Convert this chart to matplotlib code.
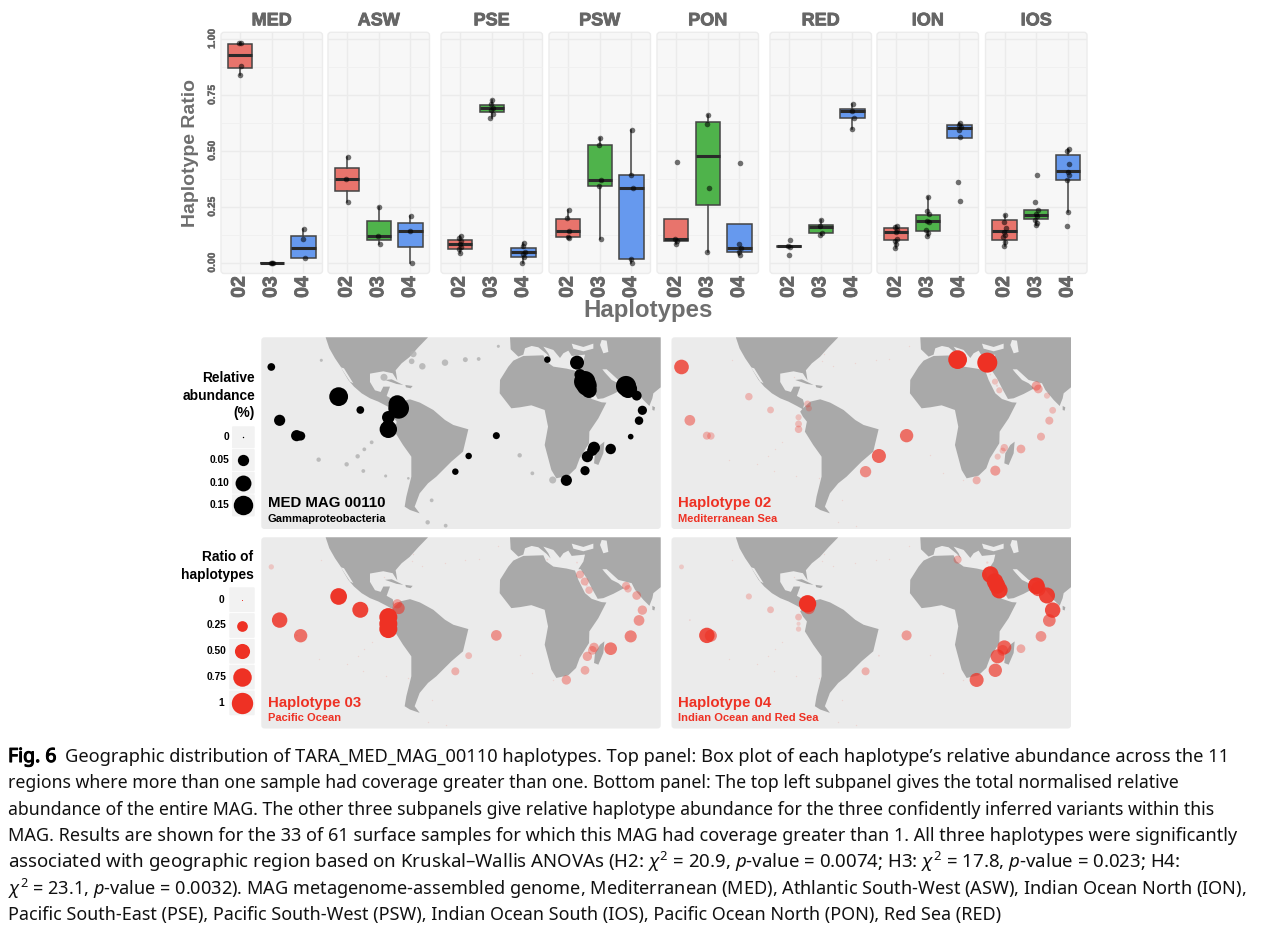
import matplotlib
matplotlib.use('Agg')
import matplotlib.pyplot as plt
import matplotlib.patheffects as pe
from matplotlib.patches import FancyBboxPatch, Polygon

plt.rcParams['font.family'] = ['Liberation Sans', 'DejaVu Sans']
plt.rcParams['mathtext.fontset'] = 'custom'
plt.rcParams['mathtext.rm'] = 'Noto Sans'
plt.rcParams['mathtext.it'] = 'Noto Sans:italic'
plt.rcParams['mathtext.bf'] = 'Noto Sans:bold'

W, H = 1268, 933

# ---- box plot data ----
regions = ['MED', 'ASW', 'PSE', 'PSW', 'PON', 'RED', 'ION', 'IOS']
haplotypes = ['02', '03', '04']
box_q1 = [[.87, 0, .02], [.321, .10, .071], [.063, .673, .027], [.115, .341, .015],
          [.098, .26, .046], [.07, .131, .646], [.101, .14, .557], [.103, .196, .372]]
box_med = [[.93, 0, .064], [.374, .12, .144], [.086, .692, .046], [.143, .369, .332],
           [.106, .476, .067], [.073, .162, .68], [.138, .188, .601], [.143, .213, .409]]
box_q3 = [[.979, 0, .119], [.424, .185, .177], [.103, .704, .065], [.196, .528, .391],
          [.195, .628, .174], [.075, .168, .688], [.155, .213, .616], [.193, .237, .481]]
whis_lo = [[.84, 0, .02], [.272, .083, 0], [.042, .649, 0], [.109, .106, 0],
           [.085, .048, .036], [.07, .122, .597], [.068, .119, .557], [.077, .168, .229]]
whis_hi = [[.98, 0, .153], [.473, .25, .21], [.118, .726, .089], [.238, .557, .592],
           [.195, .662, .174], [.075, .189, .71], [.165, .292, .625], [.213, .237, .51]]

med_pts = [[.98, .98, .88, .84], [0, 0, 0], [.153, .107, .02]]
asw_pts = [[.473, .374, .272], [.25, .12, .083], [.21, .144, 0]]
pse_pts = [[.118, .109, .098, .086, .071, .06, .042], [.726, .708, .693, .682, .667, .649],
           [.089, .074, .046, .039, .024, 0]]
psw_pts = [[.238, .198, .143, .115, .109], [.557, .528, .368, .341, .106], [.592, .391, .332, .015, 0]]
pon_pts = [[.452, .106, .098, .085], [.662, .619, .332, .048], [.445, .082, .064, .048, .036]]
red_pts = [[.103, .073, .07, .034], [.189, .164, .131, .122], [.71, .68, .649, .597]]
ion_pts = [[.165, .158, .146, .138, .104, .098, .086, .068], [.292, .232, .216, .188, .183, .146, .135, .119],
           [.625, .616, .607, .595, .56, .36, .275]]
ios_pts = [[.213, .183, .155, .137, .124, .113, .094, .077], [.393, .271, .235, .219, .208, .193, .179, .168],
           [.51, .5, .443, .406, .391, .368, .229, .164]]
points = [med_pts, asw_pts, pse_pts, psw_pts, pon_pts, red_pts, ion_pts, ios_pts]
jitter = [.02, -.03, .04, -.01, .03, -.04, .01, -.02]

# ---- map data, all in the units of one map panel ----
north_america = [(467, 22), (478, 55), (495, 85), (512, 110), (520, 125), (535, 150), (552, 170), (575, 190),
                 (600, 205), (625, 215), (650, 228), (668, 238), (672, 222), (668, 208), (650, 198), (660, 170),
                 (640, 170), (632, 186), (615, 181), (600, 156), (600, 131), (640, 124), (668, 130), (682, 152),
                 (677, 121), (695, 100), (719, 81), (745, 52), (774, 22)]
south_america = [(668, 235), (690, 215), (720, 208), (750, 218), (790, 240), (825, 270), (850, 285), (895, 298),
                 (879, 365), (844, 395), (799, 440), (774, 460), (749, 490), (734, 530), (749, 550), (720, 540),
                 (704, 530), (709, 500), (724, 440), (724, 380), (699, 345), (674, 305), (680, 275), (668, 260),
                 (660, 245)]
africa = [(1030, 92), (1060, 78), (1120, 76), (1128, 94), (1150, 110), (1190, 116), (1215, 122), (1225, 150),
          (1245, 190), (1265, 207), (1295, 217), (1309, 218), (1285, 265), (1258, 305), (1257, 340), (1229, 385),
          (1218, 415), (1195, 437), (1159, 445), (1144, 420), (1124, 345), (1134, 290), (1124, 240), (1084, 226),
          (1050, 232), (1024, 235), (989, 190), (990, 150), (1015, 110)]
eurasia = [(1020, 22), (1022, 58), (1045, 80), (1060, 74), (1065, 55), (1085, 48), (1105, 52), (1130, 72),
           (1142, 86), (1135, 70), (1120, 50), (1150, 60), (1170, 84), (1180, 70), (1195, 62), (1205, 78),
           (1245, 74), (1240, 95), (1225, 118), (1232, 118), (1250, 145), (1268, 180), (1283, 207), (1300, 205),
           (1330, 192), (1362, 175), (1345, 160), (1325, 150), (1305, 128), (1297, 118), (1310, 118), (1345, 150),
           (1385, 160), (1395, 180), (1420, 210), (1438, 228), (1447, 205), (1450, 190), (1472, 172), (1472, 22)]
madagascar = [(1290, 345), (1303, 335), (1300, 370), (1285, 405), (1272, 400), (1275, 370)]
sri_lanka = [(1447, 228), (1455, 232), (1453, 242), (1447, 240)]
cuba = [(645, 150), (665, 148), (700, 165), (680, 162)]
hispaniola = [(706, 165), (728, 168), (722, 175), (708, 172)]
black_sea = [(1205, 41), (1240, 51), (1270, 41), (1270, 56), (1240, 64), (1210, 56)]
caspian = [(1295, 30), (1310, 32), (1315, 66), (1300, 70), (1290, 45)]
gulf_california = [(512, 112), (522, 115), (550, 160), (540, 155)]
land = [north_america, south_america, africa, eurasia, madagascar, sri_lanka, cuba, hispaniola]
seas = [black_sea, caspian, gulf_california]

station_x = [304, 506, 571, 329, 380, 392, 682, 686, 655, 655, 655, 979, 896, 856, 1132, 1221,
             1230, 1244, 1250, 1257, 1368, 1374, 1400, 1417, 1407, 1382, 1322, 1272, 1267, 1252, 1245, 1189]
station_y = [111, 200, 240, 271, 317, 318, 222, 235, 262, 282, 298, 317, 378, 425, 89, 98,
             134, 155, 167, 181, 168, 177, 197, 241, 272, 320, 357, 353, 362, 380, 422, 451]
abundance = [.023, .14, .023, .049, .049, .033, .121, .17, .0625, .043, .12, .019, .016, .016, .016, .077,
             .049, .18, .16, .093, .16, .13, .038, .033, .028, .012, .043, .056, .043, .049, .033, .049]
ratio_h2 = [.47, .12, .10, .25, .14, .12, .10, .08, .08, .10, .12, .39, .43, .28, .77, .88,
            .005, .08, .01, .08, .19, .165, .08, .10, .14, .14, .165, .12, .08, .08, .22, .14]
ratio_h3 = [.06, .61, .56, .52, .005, .39, .19, .32, .71, .71, .71, .25, .10, .14, .005, .005,
            .14, .14, .01, .12, .14, .12, .165, .19, .25, .32, .35, .19, .165, .19, .165, .19]
ratio_h4 = [.05, .08, .10, .005, .52, .32, .66, .32, .10, .035, .06, .22, .005, .14, .14, .01,
            .6, .6, .6, .6, .61, .47, .56, .52, .35, .25, .165, .43, .25, .43, .39, .43]
low_x = [454, 730, 725, 757, 642, 825, 886, 926, 985, 605, 583, 563, 446, 530, 580, 647, 1049, 1087, 1148, 785, 773, 827, 715]
low_y = [91, 72, 94, 109, 142, 98, 89, 87, 49, 337, 358, 379, 389, 403, 423, 438, 376, 430, 450, 511, 577, 587, 445]
low_abundance = [.003, .016, .012, .016, .019, .016, .009, .005, .003, .005, .005, .007, .007, .007, .005, .003,
                 .007, .005, .019, .005, .007, .005, .002]

abundance_legend = [0, .05, .10, .15]
abundance_labels = ['0', '0.05', '0.10', '0.15']
ratio_legend = [0, .25, .50, .75, 1]
ratio_labels = ['0', '0.25', '0.50', '0.75', '1']

caption = [
    "Geographic distribution of TARA_MED_MAG_00110 haplotypes. Top panel: Box plot of each haplotype’s relative abundance across the 11",
    "regions where more than one sample had coverage greater than one. Bottom panel: The top left subpanel gives the total normalised relative",
    "abundance of the entire MAG. The other three subpanels give relative haplotype abundance for the three confidently inferred variants within this",
    "MAG. Results are shown for the 33 of 61 surface samples for which this MAG had coverage greater than 1. All three haplotypes were significantly",
    r"associated with geographic region based on Kruskal–Wallis ANOVAs (H2: $\chi^2$ = 20.9, $\mathit{p}$-value = 0.0074; H3: $\chi^2$ = 17.8, $\mathit{p}$-value = 0.023; H4:",
    r"$\chi^2$ = 23.1, $\mathit{p}$-value = 0.0032). MAG metagenome-assembled genome, Mediterranean (MED), Athlantic South-West (ASW), Indian Ocean North (ION),",
    "Pacific South-East (PSE), Pacific South-West (PSW), Indian Ocean South (IOS), Pacific Ocean North (PON), Red Sea (RED)",
]
caption_sizes = [13.15, 12.75, 12.75, 13.0, 13.45, 13.05, 12.95]

RED = '#ee3124'
GRAY = '#666666'
box_colors = ['#e8746c', '#4fb34b', '#6699ee']
thick = [pe.withStroke(linewidth=.6, foreground=GRAY)]
thin_stroke = [pe.withStroke(linewidth=.3, foreground=GRAY)]


def px_axes(x0, y0, x1, y1):
    return fig.add_axes([x0 / W, 1 - y1 / H, (x1 - x0) / W, (y1 - y0) / H])


def abundance_size(v):
    return 1300 * v + 1


def ratio_size(v):
    return 236 * v + 0.5


def ratio_alpha(v):
    return min(1, .12 + 1.4 * v)


def rounded(x0, y0, x1, y1, color, edge='none', rad=3):
    bg.add_patch(FancyBboxPatch((x0, y0), x1 - x0, y1 - y0, boxstyle='round,pad=0,rounding_size=%d' % rad,
                                fc=color, ec=edge, lw=1))


fig = plt.figure(figsize=(W / 100, H / 100), dpi=100)

# background layer in pixel units
bg = fig.add_axes([0, 0, 1, 1], zorder=-1)
bg.set_xlim(0, W)
bg.set_ylim(H, 0)
bg.axis('off')

# ---- top box plots ----
panel_left = [221, 328, 441, 549, 657, 770, 877, 985.5]
panel_w = 101.5
for i, region in enumerate(regions):
    x0 = panel_left[i]
    rounded(x0, 32.3, x0 + panel_w, 273.5, '#f7f7f7', '#ececec')
    ax = px_axes(x0, 32.3, x0 + panel_w, 273.5)
    ax.patch.set_visible(False)
    ax.set_xlim(.4, 3.6)
    ax.set_ylim(-.048, 1.03)
    for s in ax.spines.values():
        s.set_visible(False)
    ax.set_yticks([0, .25, .5, .75, 1])
    ax.set_yticks([.125, .375, .625, .875], minor=True)
    ax.grid(True, which='major', color='#ebebeb', lw=1)
    ax.grid(True, which='minor', axis='y', color='#f0f0f0', lw=.7)
    ax.set_axisbelow(True)
    ax.tick_params(which='both', length=0)

    stats = []
    for j in range(3):
        stats.append({'med': box_med[i][j], 'q1': box_q1[i][j], 'q3': box_q3[i][j],
                      'whislo': whis_lo[i][j], 'whishi': whis_hi[i][j], 'fliers': []})
    parts = ax.bxp(stats, positions=[1, 2, 3], widths=.76, patch_artist=True, showcaps=False, showfliers=False,
                   manage_ticks=False,
                   boxprops=dict(edgecolor='#444444', linewidth=1.1),
                   whiskerprops=dict(color='#444444', linewidth=1.1),
                   medianprops=dict(color='#2a2a2a', linewidth=2.2, solid_capstyle='butt'))
    for box, c in zip(parts['boxes'], box_colors):
        box.set_facecolor(c)
    for j in range(3):
        vals = points[i][j]
        xs = [j + 1 + jitter[k % len(jitter)] for k in range(len(vals))]
        ax.scatter(xs, vals, s=16, color='black', alpha=.55, lw=0, zorder=5)

    ax.set_xticks([1, 2, 3])
    ax.set_xticklabels(haplotypes, rotation=90, fontsize=14, fontweight='bold', color=GRAY, path_effects=thick)
    ax.tick_params(axis='x', pad=2)
    if i == 0:
        ax.set_yticklabels(['0.00', '0.25', '0.50', '0.75', '1.00'], rotation=90, va='center',
                           fontsize=7.4, fontweight='bold', color=GRAY, path_effects=thin_stroke)
        ax.tick_params(axis='y', pad=3)
    else:
        ax.set_yticklabels([])
    ax.set_title(region, fontsize=13, fontweight='bold', color=GRAY, pad=5, path_effects=thick)

bg.text(190.5, 153, 'Haplotype Ratio', rotation=90, ha='center', va='center', fontsize=14, fontweight='bold', color='#6e6e6e')
bg.text(648, 311, 'Haplotypes', ha='center', va='center', fontsize=17.3, fontweight='bold', color='#6e6e6e')

# ---- maps ----
map_boxes = [(261.3, 337.3, 660.7, 529), (671.5, 337.3, 1071, 529), (261.3, 537.3, 660.7, 728.5), (671.5, 537.3, 1071, 728.5)]
map_values = [abundance, ratio_h2, ratio_h3, ratio_h4]
map_titles = ['MED MAG 00110', 'Haplotype 02', 'Haplotype 03', 'Haplotype 04']
map_subs = ['Gammaproteobacteria', 'Mediterranean Sea', 'Pacific Ocean', 'Indian Ocean and Red Sea']

for n, (x0, y0, x1, y1) in enumerate(map_boxes):
    rounded(x0, y0, x1, y1, '#ebebeb')
    ax = px_axes(x0, y0, x1, y1)
    ax.patch.set_visible(False)
    ax.set_xlim(274, 1472)
    ax.set_ylim(597, 22)
    ax.axis('off')
    for shape in land:
        ax.add_patch(Polygon(shape, closed=True, fc='#a9a9a9', ec='none', zorder=1))
    for shape in seas:
        ax.add_patch(Polygon(shape, closed=True, fc='#ebebeb', ec='none', zorder=1))
    if n == 0:
        ax.scatter(low_x, low_y, s=[abundance_size(v) for v in low_abundance], color='#b0b0b0', alpha=.8, lw=0, zorder=2)
        ax.scatter(station_x, station_y, s=[abundance_size(v) for v in abundance], color='black', lw=0, zorder=3)
        c = 'black'
    else:
        ax.scatter(low_x, low_y, s=1, color=RED, alpha=.12, lw=0, zorder=2)
        vals = map_values[n]
        ax.scatter(station_x, station_y, s=[ratio_size(v) for v in vals], color=RED,
                   alpha=[ratio_alpha(v) for v in vals], lw=0, zorder=3)
        c = RED
    bg.text(x0 + 6.7, y1 - 26, map_titles[n], fontsize=10.8, fontweight='bold', color=c, ha='left', va='center')
    bg.text(x0 + 6.7, y1 - 10.5, map_subs[n], fontsize=8, fontweight='bold', color=c, ha='left', va='center')

# ---- legends ----
for y, t in zip([378, 395.5, 413], ['Relative', 'abundance', '(%)']):
    bg.text(255, y, t, fontsize=9.9, fontweight='bold', ha='right', va='center')
for k, (v, t) in enumerate(zip(abundance_legend, abundance_labels)):
    yc = 437.3 + k * 22.7
    rounded(232, yc - 11, 254.7, yc + 11, '#f2f2f2', rad=1)
    bg.scatter([243.3], [yc], s=abundance_size(v), color='black', lw=0, zorder=3)
    bg.text(229, yc, t, fontsize=7.4, fontweight='bold', ha='right', va='center')

for y, t in zip([557.3, 574.7], ['Ratio of', 'haplotypes']):
    bg.text(253.5, y, t, fontsize=9.9, fontweight='bold', ha='right', va='center')
for k, (v, t) in enumerate(zip(ratio_legend, ratio_labels)):
    yc = 599.7 + k * 25.8
    rounded(229.3, yc - 12.4, 254.7, yc + 12.4, '#f2f2f2', rad=1)
    bg.scatter([241.7], [yc], s=ratio_size(v), color=RED, lw=0, zorder=3)
    bg.text(226.7 if k not in (0, 4) else 224, yc, t, fontsize=7.4, fontweight='bold', ha='right', va='center')

# ---- caption ----
caption_font = ['Noto Sans', 'DejaVu Sans']
bg.text(8, 757, 'Fig. 6', fontsize=14, fontweight='bold', family=caption_font, color='black', ha='left', va='center',
        path_effects=[pe.withStroke(linewidth=.8, foreground='black')])
for k, line in enumerate(caption):
    bg.text(65 if k == 0 else 8, 757 + k * 26.3, line, fontsize=caption_sizes[k], family=caption_font,
            color='#111111', ha='left', va='center')

bg.set_xlim(0, W)
bg.set_ylim(H, 0)
fig.savefig('out.png', dpi=100)
